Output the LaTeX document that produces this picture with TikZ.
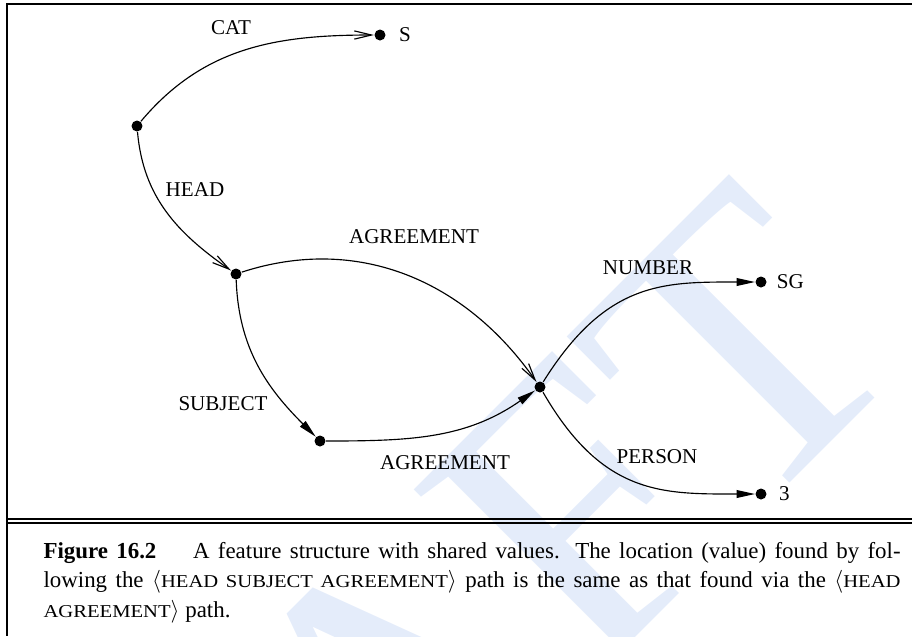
\documentclass[tikz,border=0pt]{standalone}
\usepackage{fontspec}
\setmainfont{Liberation Serif}
\newfontfamily\kapfont[FakeStretch=1.14]{Liberation Serif}
\usetikzlibrary{arrows.meta}

\definecolor{draftblau}{RGB}{228,236,250}
\newcommand{\kapit}[1]{{\kapfont\fontsize{7.9}{12.9}\selectfont #1}}

\tikzset{
    punkt/.style={circle, fill, inner sep=0pt, minimum size=4.8pt},
    merkmal/.style={inner sep=0pt, font=\fontsize{9.2}{11}\selectfont},
    offen/.style={-{Straight Barb[length=7.5pt,width=3.6pt]}},
    voll/.style={-{Triangle[length=8pt,width=3.4pt]}}
}

\begin{document}
\begin{tikzpicture}[x=0.01535cm, y=0.01535cm, line width=0.5pt]
    \useasboundingbox (0,0) rectangle (912,-636);
    % watermark
    \begin{scope}
        \clip (0,0) rectangle (912,-636);
        \node[rotate=45, anchor=base east, inner sep=0pt, text=draftblau,
            font=\fontsize{174}{174}\selectfont] (wz) at (919.5,-353.5) {DRAFT};
    \end{scope}
    % frame
    \draw[line width=0.6pt] (912,-4) -- (7,-4) -- (7,-636);
    \draw[line width=0.6pt] (7,-519) -- (912,-519) (7,-523) -- (912,-523);

    \path node[punkt] (wurzel) at (137,-126) {}
        node[punkt, label={[merkmal, label distance=5.5pt]right:S}] (S) at (380,-35) {}
        node[punkt] (kopf) at (236,-274) {}
        node[punkt] (subj) at (320,-441) {}
        node[punkt] (agr) at (540,-387) {}
        node[punkt, label={[merkmal, label distance=4pt]right:SG}] (SG) at (761,-282) {}
        node[punkt, label={[merkmal, label distance=5pt]right:3}] (drei) at (761,-494) {};

    \draw[offen] (wurzel) to[out=50, in=180] (S);
    \draw[offen] (wurzel) to[out=-85, in=145] (kopf);
    \draw[offen] (kopf) to[out=18, in=125] (agr);
    \draw[voll] (kopf) to[out=-88, in=135] (subj);
    \draw[voll] (subj) to[out=0, in=-145] (agr);
    \draw[voll] (agr) to[out=58, in=180, out looseness=1.3] (SG);
    \draw[voll] (agr) to[out=-60, in=180, out looseness=1.3] (drei);

    \node[merkmal] (lcat) at (231,-28) {CAT};
    \node[merkmal] (lhead) at (195,-190) {HEAD};
    \node[merkmal] (lagr1) at (414,-237) {AGREEMENT};
    \node[merkmal] (lsubj) at (223,-404) {SUBJECT};
    \node[merkmal] (lagr2) at (445,-463) {AGREEMENT};
    \node[merkmal] (lnum) at (648,-268) {NUMBER};
    \node[merkmal] (lpers) at (657,-457) {PERSON};

    % caption
    \node[anchor=base west, inner sep=0pt, text width=374.3pt, align=justify,
        font=\fontsize{10}{12.9}\selectfont] (unter) at (43,-558)
        {{\bfseries Figure 16.2}\hspace{16pt}A feature structure with shared values.
        The location (value) found by fol-\linebreak lowing the
        $\langle$\kapit{HEAD SUBJECT AGREEMENT}$\rangle$ path is the same as that
        found via the $\langle$\kapit{HEAD}\linebreak \kapit{AGREEMENT}$\rangle$ path.};
\end{tikzpicture}
\end{document}
